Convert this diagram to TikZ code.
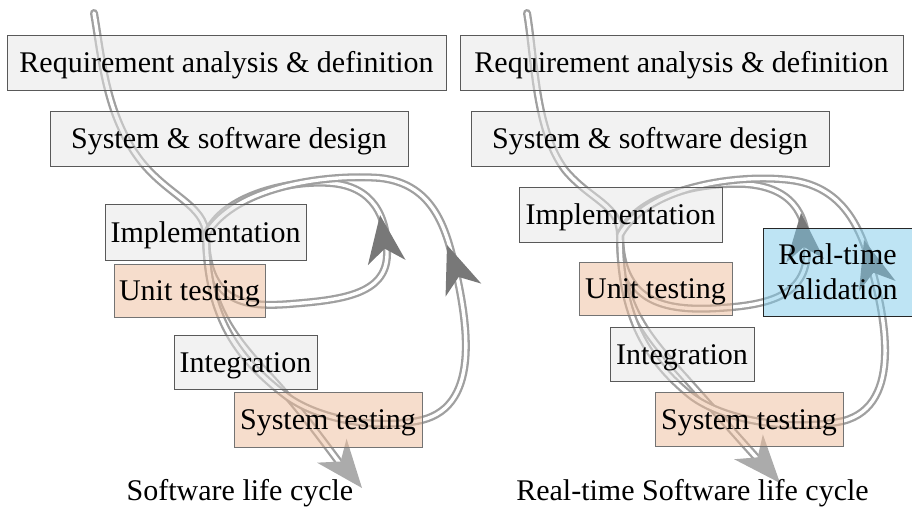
\documentclass[tikz,border=0pt]{standalone}
\usepackage{fontspec}
\setmainfont{Liberation Serif}

\definecolor{phasegray}{HTML}{E5E5E5}
\definecolor{testpeach}{HTML}{EDBB99}
\definecolor{rtblue}{HTML}{7DC9E9}
\definecolor{flowgray}{HTML}{A0A0A0}
\definecolor{maintip}{HTML}{ABABAB}
\definecolor{looptip}{HTML}{787878}

\begin{document}
\begin{tikzpicture}[x=1pt,y=-1pt,
	phase/.style={draw=black!65, fill=phasegray, fill opacity=0.5, text opacity=1,
		minimum height=55pt, inner sep=0pt, text height=24pt, text depth=4pt,
		font=\fontsize{30}{35}\selectfont},
	testphase/.style={phase, fill=testpeach, draw=black!55},
	rtphase/.style={phase, fill=rtblue, draw=black!85, align=center, text height=, text depth=},
	flow/.style={draw=flowgray, double=white, double distance=3.4pt,
		line width=2.3pt, line cap=round, line join=round},
	cyclename/.style={font=\fontsize{30}{35}\selectfont},
	tiphead/.pic={\path[pic actions] (0,0) -- (-48,-19) -- (-34,0) -- (-48,19) -- cycle;}
]
	\useasboundingbox (0,0) rectangle (912,513);

	% flows, left
	\coordinate (topL) at (94,13);
	\coordinate (forkL) at (206,235);
	\coordinate (endL) at (345,470);
	\draw[flow] (topL) .. controls (102,60) and (106,115) .. (140,160) .. controls (168,196) and (205,205) .. (forkL)
		.. controls (207,300) and (228,330) .. (262,368) .. controls (300,408) and (322,440) .. (endL);
	\draw[flow] (forkL) .. controls (222,195) and (290,180) .. (330,183) .. controls (372,186) and (388,215) .. (387,255)
		.. controls (386,295) and (340,300) .. (290,304) .. controls (240,308) and (207,300) .. (forkL);
	\draw[flow] (forkL) .. controls (235,185) and (330,174) .. (380,178) .. controls (425,183) and (442,215) .. (452,255)
		.. controls (468,320) and (482,405) .. (422,420) .. controls (378,430) and (318,420) .. (285,395)
		.. controls (240,360) and (207,320) .. (forkL);
	\pic[fill=maintip, rotate=-51] at (362,488) {tiphead};
	\pic[fill=looptip, rotate=98] at (380,215) {tiphead};
	\pic[fill=looptip, rotate=110] at (447,245) {tiphead};

	% flows, right
	\coordinate (topR) at (527,13);
	\coordinate (forkR) at (620,235);
	\coordinate (endR) at (765,467);
	\draw[flow] (topR) .. controls (535,60) and (535,130) .. (565,170) .. controls (590,200) and (620,205) .. (forkR)
		.. controls (620,300) and (642,330) .. (680,372) .. controls (716,412) and (742,442) .. (endR);
	\draw[flow] (forkR) .. controls (636,195) and (700,182) .. (745,184) .. controls (790,187) and (808,212) .. (807,252)
		.. controls (806,295) and (770,305) .. (720,308) .. controls (660,312) and (621,300) .. (forkR);
	\draw[flow] (forkR) .. controls (648,185) and (740,174) .. (790,180) .. controls (838,186) and (858,220) .. (870,262)
		.. controls (884,312) and (905,405) .. (843,421) .. controls (790,432) and (722,420) .. (690,395)
		.. controls (650,362) and (620,320) .. (forkR);
	\pic[fill=maintip, rotate=-49] at (780,483) {tiphead};
	\pic[fill=looptip, rotate=95] at (801,213) {tiphead};
	\pic[fill=looptip, rotate=106] at (864,240) {tiphead};

	% phases, left
	\node[phase, minimum width=439pt] (reqL) at (226.5,62.5) {Requirement analysis \& definition};
	\node[phase, minimum width=358pt] (designL) at (229,138.5) {System \& software design};
	\node[phase, minimum width=201pt, minimum height=56pt] (implL) at (205.5,232) {Implementation};
	\node[testphase, minimum width=151pt, minimum height=53pt] (unitL) at (189.5,290.5) {Unit testing};
	\node[phase, minimum width=143pt, minimum height=54pt] (integL) at (245.5,362) {Integration};
	\node[testphase, minimum width=188pt] (systestL) at (328,419.5) {System testing};
	\node[cyclename] (nameL) at (240,493) {Software life cycle};

	% phases, right
	\node[phase, minimum width=443pt] (reqR) at (681.5,62.5) {Requirement analysis \& definition};
	\node[phase, minimum width=358pt] (designR) at (650,138.5) {System \& software design};
	\node[phase, minimum width=203pt] (implR) at (620.5,214.5) {Implementation};
	\node[rtphase, minimum width=149pt, minimum height=88pt] (rtval) at (837.5,272) {Real-time\\validation};
	\node[testphase, minimum width=153pt, minimum height=53pt] (unitR) at (655.5,288.5) {Unit testing};
	\node[phase, minimum width=144pt, minimum height=54pt] (integR) at (682,354) {Integration};
	\node[testphase, minimum width=188pt, minimum height=54pt] (systestR) at (749,419) {System testing};
	\node[cyclename] (nameR) at (692.5,493) {Real-time Software life cycle};
\end{tikzpicture}
\end{document}
